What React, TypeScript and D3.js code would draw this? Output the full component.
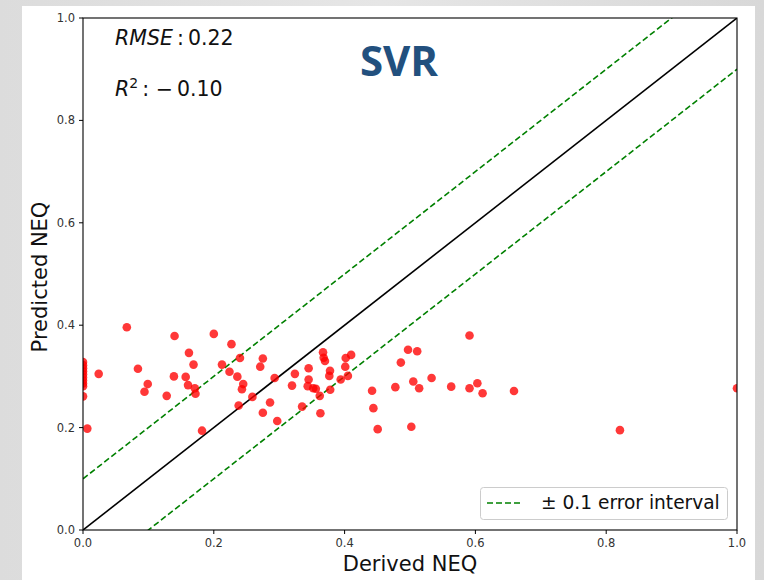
import React from "react";
import * as d3 from "d3";

const derivedNEQ: number[] = [
  0, 0, 0, 0, 0, 0, 0, 0, 0, 0,
  0.0066, 0.024, 0.067, 0.084, 0.094, 0.099, 0.128, 0.139, 0.14, 0.157,
  0.1606, 0.162, 0.169, 0.171, 0.172, 0.182, 0.2, 0.2125, 0.224, 0.227,
  0.236, 0.238, 0.24, 0.243, 0.245, 0.259, 0.271, 0.275, 0.275, 0.286,
  0.293, 0.297, 0.3196, 0.324, 0.335, 0.3436, 0.345, 0.345, 0.352, 0.356,
  0.362, 0.363, 0.367, 0.368, 0.37, 0.3766, 0.3777, 0.378, 0.394, 0.401,
  0.4017, 0.405, 0.41, 0.442, 0.444, 0.4506, 0.4776, 0.486, 0.497, 0.502,
  0.505, 0.511, 0.514, 0.533, 0.563, 0.591, 0.591, 0.603, 0.611, 0.659,
  0.821, 1.0,
];
const predictedNEQ: number[] = [
  0.328, 0.322, 0.316, 0.31, 0.304, 0.298, 0.292, 0.286, 0.281, 0.261,
  0.198, 0.305, 0.396, 0.315, 0.27, 0.285, 0.262, 0.3, 0.379, 0.299,
  0.283, 0.346, 0.323, 0.277, 0.266, 0.194, 0.383, 0.323, 0.309, 0.363,
  0.2995, 0.243, 0.336, 0.275, 0.285, 0.26, 0.319, 0.335, 0.229, 0.249,
  0.297, 0.213, 0.282, 0.305, 0.241, 0.281, 0.316, 0.294, 0.277, 0.276,
  0.262, 0.228, 0.347, 0.3365, 0.33, 0.301, 0.311, 0.274, 0.294, 0.319,
  0.336, 0.301, 0.342, 0.272, 0.238, 0.197, 0.279, 0.327, 0.352, 0.2018,
  0.29, 0.349, 0.277, 0.297, 0.28, 0.38, 0.277, 0.2865, 0.267, 0.2715,
  0.195, 0.277,
];
const tickValues: number[] = [0, 0.2, 0.4, 0.6, 0.8, 1.0];
const errorOffsets: number[] = [0.1, -0.1];
const metricRMSE = "0.22";
const metricR2 = "0.10";
const titleText = "SVR";
const xLabel = "Derived NEQ";
const yLabel = "Predicted NEQ";
const legendLabel = "± 0.1 error interval";

const W = 764;
const H = 580;
const L = 83, R = 737, T = 18, B = 530;

export default function App() {
  const x = d3.scaleLinear().domain([0, 1]).range([L, R]);
  const y = d3.scaleLinear().domain([0, 1]).range([B, T]);
  const line = d3.line<[number, number]>().x((d) => x(d[0])).y((d) => y(d[1]));
  const diag: [number, number][] = [[0, 0], [1, 1]];
  const fmt = d3.format(".1f");
  const font = "'DejaVu Sans', sans-serif";

  return (
    <svg width={W} height={H} style={{ position: "absolute", left: 0, top: 0 }}>
      <defs>
        <linearGradient id="bg" x1="0" x2="1" y1="0" y2="0">
          <stop offset="0" stopColor="#dcdcdc" />
          <stop offset="0.5" stopColor="#e6e6e6" />
          <stop offset="1" stopColor="#d8d8d8" />
        </linearGradient>
        <clipPath id="plot">
          <rect x={L} y={T} width={R - L} height={B - T} />
        </clipPath>
      </defs>
      <rect x={0} y={0} width={W} height={H} fill="url(#bg)" />
      <rect x={22} y={6} width={733} height={H - 6} fill="#ffffff" />

      <g clipPath="url(#plot)">
        <path d={line(diag) || ""} stroke="#000" strokeWidth={1.6} fill="none" />
        {errorOffsets.map((o, i) => (
          <path
            key={i}
            d={line(diag.map((d) => [d[0], d[1] + o] as [number, number])) || ""}
            stroke="#008000"
            strokeWidth={1.6}
            strokeDasharray="6,3"
            fill="none"
          />
        ))}
        {derivedNEQ.map((dx, i) => (
          <circle
            key={i}
            cx={x(dx)}
            cy={y(predictedNEQ[i])}
            r={4.3}
            fill="#ff0000"
            fillOpacity={0.78}
          />
        ))}
      </g>

      <rect x={L} y={T} width={R - L} height={B - T} fill="none" stroke="#000" strokeWidth={1.1} />

      {tickValues.map((t) => (
        <g key={"x" + t}>
          <line x1={x(t)} x2={x(t)} y1={B} y2={B + 4} stroke="#000" strokeWidth={1} />
          <text x={x(t)} y={547} textAnchor="middle" fontFamily={font} fontSize={11.5} fill="#333">
            {fmt(t)}
          </text>
        </g>
      ))}
      {tickValues.map((t) => (
        <g key={"y" + t}>
          <line x1={L - 4} x2={L} y1={y(t)} y2={y(t)} stroke="#000" strokeWidth={1} />
          <text x={75} y={y(t) + 4} textAnchor="end" fontFamily={font} fontSize={11.5} fill="#333">
            {fmt(t)}
          </text>
        </g>
      ))}

      <text x={(L + R) / 2} y={571} textAnchor="middle" fontFamily={font} fontSize={21} fill="#111">
        {xLabel}
      </text>
      <text
        transform={`translate(47,${(T + B) / 2 + 3}) rotate(-90)`}
        textAnchor="middle"
        fontFamily={font}
        fontSize={21}
        fill="#111"
      >
        {yLabel}
      </text>

      <text x={115} y={45} fontFamily={font} fontSize={20.5} fill="#111">
        <tspan fontStyle="italic">RMSE</tspan>
        <tspan>{"\u2009:\u2009" + metricRMSE}</tspan>
      </text>
      <text x={115} y={96} fontFamily={font} fontSize={20.5} fill="#111">
        <tspan fontStyle="italic">R</tspan>
        <tspan dy={-8} fontSize={14}>2</tspan>
        <tspan dy={8}>{"\u2009: \u2212\u2009" + metricR2}</tspan>
      </text>

      <text
        x={399}
        y={76}
        textAnchor="middle"
        fontFamily="'Open Sans', 'Liberation Sans', sans-serif"
        fontWeight="bold"
        fontSize={42}
        fill="#22507e"
      >
        {titleText}
      </text>

      <rect x={480.5} y={487.5} width={247} height={32} rx={3} fill="#fff" fillOpacity={0.8} stroke="#cccccc" strokeWidth={1} />
      <line x1={487} x2={523} y1={503} y2={503} stroke="#008000" strokeWidth={1.6} strokeDasharray="6,3" />
      <text x={541} y={509} fontFamily={font} fontSize={18.6} fill="#111">
        {legendLabel}
      </text>
    </svg>
  );
}
